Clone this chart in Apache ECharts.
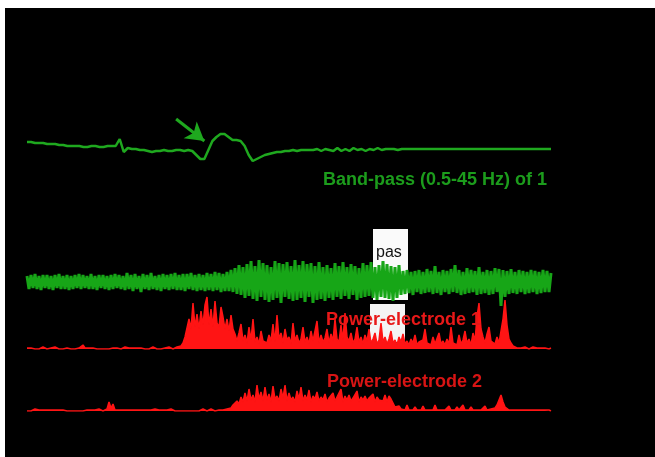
<!DOCTYPE html>
<html>
<head>
<meta charset="utf-8">
<script src="https://cdn.jsdelivr.net/npm/echarts@6/dist/echarts.min.js"></script>
<style>
  html, body { margin: 0; padding: 0; background: #fff; }
  #chart { position: absolute; left: 5px; top: 8px; width: 650px; height: 449px; }
</style>
</head>
<body>
<div id="chart"></div>
<script>
// Band-pass filtered signal (0.5-45 Hz), one sample per step
const bandPass = [
  8,8,7,7,7,6,6,6,5,5,
  4,4,4,4,3,3,4,4,3,3,
  4,4,4,11,-2,2,1,1,0,0,
  -1,-2,-1,-1,0,-1,-1,0,0,-1,
  0,-1,-5,-9,-9,0,9,13,16,16,
  13,10,10,9,4,-5,-11,-9,-7,-5,
  -4,-3,-2,-2,-1,-1,0,-1,0,0,
  0,0,1,-1,1,0,-1,2,-1,1,
  -1,2,0,1,-1,1,0,2,0,1,
  1,1,0,1,1,1,1,1,1,1,
  1,1,1,1,1,1,1,1,1,1,
  1,1,1,1,1,1,1,1,1,1,
  1,1,1,1,1,1,1,1,1,1,
  1
];

// Raw recording, electrode 1
const rawSignal = [
  6,-7,7,-6,8,-7,6,-8,7,-6,
  7,-7,6,-8,7,-6,8,-7,6,-7,
  7,-8,6,-7,7,-6,8,-7,7,-6,
  6,-7,8,-7,6,-8,7,-6,7,-7,
  6,-8,7,-7,8,-6,7,-7,6,-8,
  9,-7,7,-9,8,-7,6,-10,8,-7,
  7,-8,9,-7,6,-8,7,-9,8,-7,
  7,-8,8,-7,9,-8,7,-8,8,-9,
  8,-7,9,-8,7,-9,8,-8,7,-9,
  9,-8,8,-9,10,-8,9,-10,8,-9,
  10,-9,12,-10,14,-12,17,-13,15,-16,
  18,-14,21,-17,16,-19,22,-15,19,-18,
  17,-20,15,-18,21,-16,19,-21,18,-15,
  20,-17,16,-19,22,-18,17,-16,21,-20,
  18,-15,19,-21,16,-18,20,-17,15,-19,
  17,-16,14,-18,19,-15,16,-17,20,-14,
  15,-17,18,-13,16,-18,14,-16,19,-15,
  17,-14,20,-16,15,-18,17,-15,21,-16,
  18,-17,16,-19,15,-16,17,-13,11,-12,
  12,-11,10,-13,11,-10,12,-12,10,-11,
  13,-10,11,-12,16,-11,10,-13,12,-10,
  11,-12,13,-10,17,-11,12,-13,10,-12,
  14,-11,12,-10,11,-13,15,-12,10,-11,
  12,-13,11,-12,14,-10,13,-24,12,-15,
  11,-12,13,-11,10,-12,12,-10,11,-12,
  10,-11,12,-10,11,-12,10,-11,12,-10,
  11,-10,9
];

// Signal power, electrode 1
const power1 = [
  1,0,1,2,0,1,0,1,2,1,
  0,1,1,0,2,1,0,1,0,1,
  1,2,0,1,0,1,1,0,4,1,
  0,1,0,1,2,0,1,0,1,0,
  1,0,2,1,0,1,1,0,1,2,
  0,1,0,1,3,1,0,1,2,0,
  1,0,1,2,1,0,1,0,1,1,
  0,2,1,0,1,2,1,3,6,12,
  14,30,20,46,22,35,20,38,24,44,
  52,24,40,22,48,26,22,42,32,20,
  30,18,34,20,15,8,16,25,8,14,
  6,22,9,30,7,12,5,18,8,10,
  6,14,8,25,7,34,10,16,6,20,
  9,12,5,26,8,14,6,10,22,7,
  12,5,18,8,9,28,6,14,7,11,
  20,6,15,8,30,10,7,24,9,36,
  12,8,16,6,10,22,7,12,5,14,
  8,20,6,10,16,5,9,26,7,12,
  5,10,18,6,9,4,12,7,15,5,
  8,4,10,6,14,4,7,5,9,20,
  6,8,4,12,5,7,16,5,8,4,
  10,5,22,6,8,4,14,5,9,18,
  6,10,4,16,8,32,46,20,12,6,
  15,22,8,10,5,12,6,18,30,49,
  24,10,6,3,2,1,3,1,0,2,
  1,0,1,2,0,1,0,1,0,1,
  1,0,1
];

// Signal power, electrode 2
const power2 = [
  0,1,0,1,2,0,1,0,1,0,
  1,0,1,0,1,2,1,0,1,0,
  0,1,0,1,0,1,0,1,0,1,
  1,0,1,0,1,0,2,1,0,1,
  2,9,3,7,1,0,1,0,1,0,
  1,0,1,0,1,0,1,0,1,0,
  1,2,1,0,2,3,1,2,1,0,
  1,0,2,1,0,1,0,1,0,1,
  0,1,0,1,0,1,0,1,2,1,
  0,1,2,1,0,1,1,2,1,3,
  2,4,3,6,5,10,7,14,9,18,
  10,22,11,16,9,26,12,19,10,24,
  11,17,9,25,12,15,10,22,13,26,
  10,18,11,14,9,20,12,24,10,16,
  11,21,9,15,12,19,10,14,11,17,
  9,13,11,18,10,14,12,22,9,15,
  11,16,10,13,12,20,9,14,11,15,
  10,13,12,17,9,14,11,12,10,16,
  9,15,12,8,4,3,5,2,3,1,
  6,1,2,1,4,1,2,1,5,1,
  2,1,3,1,6,1,2,1,3,1,
  2,5,1,2,1,4,1,2,6,1,
  2,1,4,1,2,1,3,1,2,5,
  1,3,2,4,3,6,8,16,9,4,
  2,1,0,1,0,1,0,1,0,1,
  0,1,0,1,0,1,0,1,0,1,
  0,1,0
];

// Trace captions
const labels = {
  bandPass: 'Band-pass (0.5-45 Hz) of 1',
  power1: 'Power-electrode 1',
  power2: 'Power-electrode 2',
  note: 'pas'
};

// Arrow pointing at the deflection in the filtered trace: [sample, amplitude]
const arrowFrom = [37, 31];
const arrowTo = [44, 9];

const GREEN = '#1fa81f';
const RED = '#ff1414';

const toPairs = arr => arr.map((v, i) => [i, v]);

const chart = echarts.init(document.getElementById('chart'), null, { renderer: 'canvas' });

const grids = [
  { left: 22, width: 524, top: 102, height: 80 },
  { left: 22, width: 524, top: 244, height: 60 },
  { left: 22, width: 524, top: 281, height: 60 },
  { left: 22, width: 524, top: 363, height: 40 }
];
const lengths = [bandPass.length, rawSignal.length, power1.length, power2.length];
const yRanges = [[-40, 40], [-30, 30], [0, 60], [0, 40]];

chart.setOption({
  animation: false,
  backgroundColor: '#000',
  grid: grids,
  xAxis: grids.map((g, k) => ({
    type: 'value', gridIndex: k, min: 0, max: lengths[k] - 1, show: false
  })),
  yAxis: grids.map((g, k) => ({
    type: 'value', gridIndex: k, min: yRanges[k][0], max: yRanges[k][1], show: false
  })),
  graphic: [
    { type: 'rect', z: 0, shape: { x: 368, y: 221, width: 35, height: 71 }, style: { fill: '#fafafa' } },
    { type: 'rect', z: 0, shape: { x: 365, y: 296, width: 35, height: 38 }, style: { fill: '#f4f4f4' } },
    { type: 'text', z: 100, x: 371, y: 245,
      style: { text: labels.note, fill: '#111', font: '16px "Liberation Sans", Arial, sans-serif', verticalAlign: 'middle' } },
    { type: 'text', z: 100, x: 318, y: 172,
      style: { text: labels.bandPass, fill: '#1c9c1c', font: 'bold 18px "Liberation Sans", Arial, sans-serif', verticalAlign: 'middle' } },
    { type: 'text', z: 100, x: 321, y: 312,
      style: { text: labels.power1, fill: '#e81818', font: 'bold 18px "Liberation Sans", Arial, sans-serif', verticalAlign: 'middle' } },
    { type: 'text', z: 100, x: 322, y: 374,
      style: { text: labels.power2, fill: '#d81414', font: 'bold 18px "Liberation Sans", Arial, sans-serif', verticalAlign: 'middle' } }
  ],
  series: [
    {
      type: 'line', xAxisIndex: 0, yAxisIndex: 0, data: toPairs(bandPass),
      showSymbol: false, symbol: 'none',
      lineStyle: { color: GREEN, width: 2.5 },
      markLine: {
        silent: true, symbol: ['none', 'arrow'], symbolSize: [16, 18],
        label: { show: false },
        lineStyle: { color: GREEN, width: 3, type: 'solid' },
        data: [[{ coord: arrowFrom }, { coord: arrowTo }]]
      }
    },
    {
      type: 'line', xAxisIndex: 1, yAxisIndex: 1, data: toPairs(rawSignal),
      showSymbol: false, symbol: 'none',
      lineStyle: { color: '#17a617', width: 3 }
    },
    {
      type: 'line', xAxisIndex: 2, yAxisIndex: 2, data: toPairs(power1),
      showSymbol: false, symbol: 'none',
      lineStyle: { color: RED, width: 1.5 },
      areaStyle: { color: RED, opacity: 1 }
    },
    {
      type: 'line', xAxisIndex: 3, yAxisIndex: 3, data: toPairs(power2),
      showSymbol: false, symbol: 'none',
      lineStyle: { color: RED, width: 1.5 },
      areaStyle: { color: RED, opacity: 1 }
    }
  ]
});
</script>
</body>
</html>
